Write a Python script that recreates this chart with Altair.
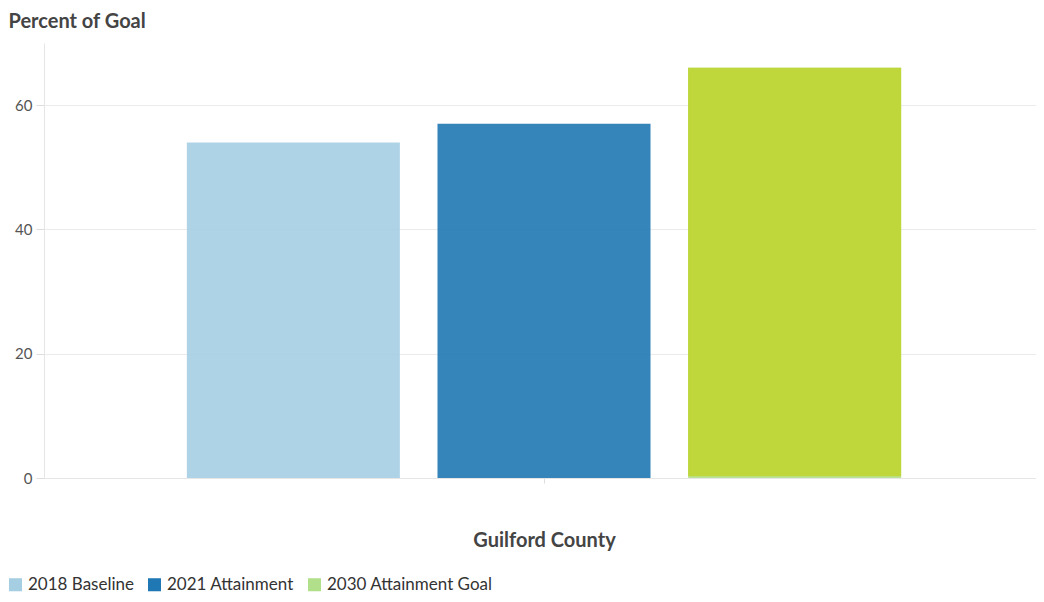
import altair as alt
import pandas as pd

county = ["Guilford County"]
series = ["2018 Baseline", "2021 Attainment", "2030 Attainment Goal"]
values = [54, 57, 66]
colors = ["#a6cee3", "#1f78b4", "#b2df8a"]
highlight_color = "#bfd73b"

df = pd.DataFrame({
    "county": county * len(series),
    "series": series,
    "value": values,
})

FONT = "Lato"

x = alt.X("county:N",
          scale=alt.Scale(paddingOuter=0.2, paddingInner=0),
          axis=alt.Axis(title="Guilford County", labels=False, ticks=True,
                        tickColor="#dddddd", tickSize=5, domainColor="#e6e6e6",
                        titleFontSize=20, titleFontWeight="bold",
                        titleColor="#444444", titleFont=FONT, titlePadding=47))
xo = alt.XOffset("series:N", sort=series,
                 scale=alt.Scale(paddingInner=0.15, paddingOuter=0))
y = alt.Y("value:Q",
          scale=alt.Scale(domain=[0, 70], nice=False),
          axis=alt.Axis(values=[0, 20, 40, 60], title="Percent of Goal",
                        titleAngle=0, titleAlign="left", titleBaseline="top",
                        titleX=-36, titleY=-32, titleFontSize=20,
                        titleFontWeight="bold", titleColor="#444444",
                        titleFont=FONT, labelFont=FONT, labelFontSize=15,
                        labelColor="#555555", tickColor="#dddddd", tickSize=8,
                        labelPadding=4, domainColor="#e6e6e6",
                        gridColor="#ebebeb"))

bars = alt.Chart(df).mark_bar(opacity=0.9).encode(
    x=x, xOffset=xo, y=y,
    color=alt.Color("series:N", sort=series,
                    scale=alt.Scale(domain=series, range=colors),
                    legend=alt.Legend(title=None, orient="none", direction="horizontal",
                                      legendX=-37, legendY=533, symbolType="square",
                                      symbolSize=170, symbolStrokeWidth=0,
                                      symbolOpacity=1, labelLimit=400,
                                      labelFont=FONT, labelFontSize=17,
                                      labelColor="#333333", columnPadding=12,
                                      labelOffset=4)),
)

overlay = alt.Chart(df).transform_filter(
    alt.datum.series == "2030 Attainment Goal"
).mark_bar(color=highlight_color, opacity=1).encode(
    x=x, xOffset=xo, y=y, y2=alt.Y2(datum=0.3)
)

chart = alt.layer(bars, overlay).properties(
    width=1000, height=435,
    padding={"left": 36, "top": 35, "right": -8, "bottom": 116},
    autosize=alt.AutoSizeParams(type="none"),
).configure_view(stroke=None)

chart.save("out.html", embed_options={"renderer": "svg", "actions": False})
